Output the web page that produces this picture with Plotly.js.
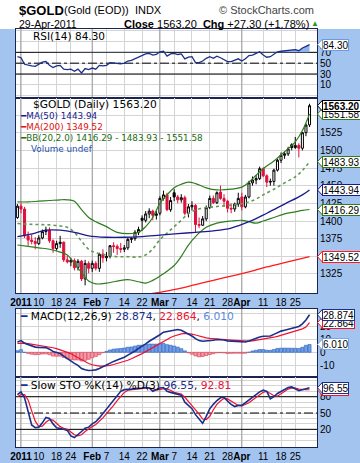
<!DOCTYPE html>
<html>
<head>
<meta charset="utf-8">
<script src="https://cdn.plot.ly/plotly-3.0.1.min.js"></script>
<style>
html,body{margin:0;padding:0;background:#a4c4f0;overflow:hidden;}
#chart{width:360px;height:463px;}
</style>
</head>
<body>
<div id="chart"></div>
<script>
// ---------------- DATA ----------------
const tradingDates = [
"2010-12-31",
"2011-01-03","2011-01-04","2011-01-05","2011-01-06","2011-01-07",
"2011-01-10","2011-01-11","2011-01-12","2011-01-13","2011-01-14",
"2011-01-18","2011-01-19","2011-01-20","2011-01-21",
"2011-01-24","2011-01-25","2011-01-26","2011-01-27","2011-01-28",
"2011-01-31","2011-02-01","2011-02-02","2011-02-03","2011-02-04",
"2011-02-07","2011-02-08","2011-02-09","2011-02-10","2011-02-11",
"2011-02-14","2011-02-15","2011-02-16","2011-02-17","2011-02-18",
"2011-02-22","2011-02-23","2011-02-24","2011-02-25",
"2011-02-28","2011-03-01","2011-03-02","2011-03-03","2011-03-04",
"2011-03-07","2011-03-08","2011-03-09","2011-03-10","2011-03-11",
"2011-03-14","2011-03-15","2011-03-16","2011-03-17","2011-03-18",
"2011-03-21","2011-03-22","2011-03-23","2011-03-24","2011-03-25",
"2011-03-28","2011-03-29","2011-03-30","2011-03-31","2011-04-01",
"2011-04-04","2011-04-05","2011-04-06","2011-04-07","2011-04-08",
"2011-04-11","2011-04-12","2011-04-13","2011-04-14","2011-04-15",
"2011-04-18","2011-04-19","2011-04-20","2011-04-21",
"2011-04-25","2011-04-26","2011-04-27","2011-04-28","2011-04-29"];

const openP = [1405,1421,1417,1379,1373,1371,1368,1376,1385,1387,
1372,1361,1368,1370,1345,1342,1344,1334,1343,1318,
1340,1333,1340,1333,1353,1348,1350,1365,1364,1361,
1360,1362,1374,1375,1384,1404,1401,1410,1414,1408,
1411,1432,1437,1416,1440,1434,1430,1433,1411,1420,
1422,1395,1394,1403,1419,1432,1426,1441,1432,1428,
1418,1417,1424,1434,1420,1434,1454,1458,1460,1474,
1464,1455,1456,1472,1486,1493,1495,1508,1504,1507,
1503,1525,1536];
const highP = [1424,1425,1420,1385,1381,1377,1380,1388,1392,1391,
1374,1372,1379,1371,1351,1348,1347,1346,1345,1345,
1343,1344,1343,1355,1360,1356,1366,1370,1367,1369,
1366,1376,1377,1387,1392,1408,1414,1418,1416,1414,
1435,1443,1440,1434,1445,1437,1438,1436,1424,1428,
1424,1405,1407,1422,1436,1436,1442,1450,1438,1430,
1425,1426,1440,1440,1437,1457,1463,1465,1477,1476,
1466,1460,1474,1488,1497,1498,1505,1510,1519,1510,
1526,1538,1566];
const lowP = [1403,1411,1376,1365,1367,1360,1366,1374,1380,1369,
1355,1358,1362,1342,1340,1336,1330,1330,1315,1309,
1326,1328,1330,1328,1341,1343,1347,1355,1352,1355,
1356,1359,1369,1372,1380,1386,1398,1404,1401,1402,
1408,1429,1414,1413,1428,1425,1426,1408,1405,1415,
1384,1390,1393,1400,1417,1424,1424,1430,1420,1412,
1411,1413,1420,1415,1418,1432,1450,1452,1458,1462,
1448,1450,1450,1470,1482,1488,1492,1500,1502,1490,
1500,1520,1533];
const closeP = [1421,1417,1379,1373,1371,1368,1376,1385,1387,1372,
1361,1368,1370,1345,1342,1344,1334,1343,1318,1340,
1333,1340,1333,1353,1348,1350,1365,1364,1361,1360,
1362,1374,1375,1384,1388,1401,1410,1414,1408,1410,
1432,1437,1416,1429,1434,1430,1433,1411,1420,1422,
1395,1394,1403,1419,1432,1426,1440,1432,1428,1418,
1417,1424,1432,1420,1434,1454,1458,1460,1474,1464,
1455,1456,1472,1486,1493,1495,1502,1504,1507,1503,
1525,1535.9,1563.2];

const ma50X = [0,5,8,12,16,20,25,30,35,40,45,50,55,60,65,70,75,80,82];
const ma50  = [1378,1383,1387,1387,1384,1379,1377,1377,1378,1380,1382,1384,1386,1390,1399,1411,1424,1437,1443.94];
const ma200X = [0,10,20,30,40,45,50,55,60,65,70,75,82];
const ma200  = [1262,1273,1283,1292,1299,1304,1310,1316,1322,1328,1335,1341,1349.52];

const bbX = [0,3,6,9,12,14,16,18,20,22,25,28,31,34,36,38,40,42,44,46,48,50,53,56,60,63,65,67,69,72,75,78,80,82];
const bbUpper = [1427,1427,1428,1429,1430,1430,1428,1416,1405,1399,1392,1384,1382,1384,1392,1405,1425,1437,1447,1452,1455,1453,1447,1444,1445,1448,1455,1465,1474,1485,1498,1512,1528,1551.58];
const bbMid = [1396.5,1395.5,1395,1394.5,1393,1391,1384,1371.5,1360,1355,1352,1349.5,1349.5,1349,1352,1360.5,1373.5,1383,1392,1401,1410.5,1415.5,1419,1420.5,1422.5,1424.5,1427,1431,1437,1445,1454,1462.5,1471.5,1483.93];
const bbLower = [1366,1364,1362,1360,1356,1352,1340,1327,1315,1311,1312,1315,1317,1314,1312,1316,1322,1329,1337,1350,1366,1378,1391,1397,1400,1401,1399,1397,1400,1405,1410,1413,1415,1416.29];

const rsi14 = [62,60,48,46,45,44,48,52,53,46,
42,45,46,39,38,39,35,39,32,40,
38,41,39,46,45,46,51,50,49,49,
50,54,55,58,60,64,67,68,65,66,
71,72,63,67,68,66,67,58,61,62,
51,51,54,59,62,59,63,60,57,53,
53,55,58,54,58,64,65,68,71,65,
61,62,67,71,72,73,74,74,75,73,
78,81,84.3];

const macdLine = [8.0,9.0,7.0,5.8,4.8,4.0,3.8,3.9,3.6,2.4,
0.6,-0.2,-1.0,-3.0,-5.0,-6.8,-8.5,-10.0,-12.5,-13.5,
-14.0,-13.8,-13.5,-12.5,-11.0,-9.8,-8.2,-7.0,-6.0,-5.0,
-3.8,-2.2,-0.9,1.0,3.0,4.5,6.5,8.5,10.0,11.5,
13.5,15.5,16.0,16.8,17.3,17.5,17.0,15.6,14.0,12.5,
10.5,9.0,8.5,8.6,9.0,9.3,9.8,9.8,9.4,8.8,
8.6,8.5,8.3,8.0,7.9,8.7,9.8,10.8,11.8,12.3,
12.2,12.5,13.8,15.3,16.3,17.0,17.8,18.5,19.3,19.9,
21.9,24.8,28.874];
const macdSignal = [6.8,7.0,7.0,6.7,6.3,5.9,5.5,5.2,4.8,4.3,
3.5,2.8,2.0,1.0,0.0,-1.0,-2.6,-4.1,-5.8,-7.3,
-8.6,-9.6,-10.3,-10.6,-10.7,-10.5,-10.0,-9.4,-8.7,-7.9,
-7.1,-6.1,-5.0,-3.8,-2.4,-1.0,0.5,2.1,3.7,5.2,
6.9,8.6,10.1,11.4,12.5,13.5,14.2,14.5,14.4,14.0,
13.3,12.5,11.7,11.1,10.7,10.4,10.2,10.1,9.9,9.7,
9.4,9.2,9.0,8.8,8.6,8.6,8.8,9.2,9.7,10.2,
10.6,11.0,11.6,12.3,13.1,13.8,14.6,15.4,16.2,17.0,
18.0,19.4,22.864];
const macdHist = [1.2,2.0,0.0,-0.9,-1.5,-1.9,-1.7,-1.3,-1.2,-1.9,
-2.9,-3.0,-3.0,-4.0,-5.0,-5.8,-5.9,-5.9,-6.7,-6.2,
-5.4,-4.2,-3.2,-1.9,-0.3,0.7,1.8,2.4,2.7,2.9,
3.3,3.9,4.1,4.8,5.4,5.5,6.0,6.4,6.3,6.3,
6.6,6.9,5.9,5.4,4.8,4.0,2.8,1.1,-0.4,-1.5,
-2.8,-3.5,-3.2,-2.5,-1.7,-1.1,-0.4,-0.3,-0.5,-0.9,
-0.8,-0.7,-0.7,-0.8,-0.7,0.1,1.0,1.6,2.1,2.1,
1.6,1.5,2.2,3.0,3.2,3.2,3.2,3.1,3.1,2.9,
3.9,5.4,6.010];

const stoK = [84,89,78,55,28,23,24,32,42,40,
30,23,22,20,18,8,5,10,16,22,
24,30,34,41,49,56,64,72,82,90,
93,93,94,95,95,96,97,96,90,93,
96,97,90,88,86,85,83,70,64,58,
47,38,31,44,58,66,73,78,79,72,
66,62,64,64,69,74,79,84,89,92,
90,76,80,86,90,94,97,98,94,91,
93,95,96.55];
const stoD = [80,84,84,74,54,35,25,26,33,38,
37,31,25,22,20,15,10,8,10,16,
21,25,29,35,41,49,56,64,73,81,
88,92,93,94,95,95,96,96,94,93,
93,95,94,92,88,86,85,79,72,64,
56,48,39,38,44,56,66,72,77,76,
72,67,64,63,66,69,74,79,84,88,
90,86,82,81,85,90,94,96,96,94,
93,93,92.81];

const tickDates = ["2011-01-03","2011-01-10","2011-01-18","2011-01-24","2011-02-01","2011-02-07","2011-02-14","2011-02-22","2011-03-01","2011-03-07","2011-03-14","2011-03-21","2011-03-28","2011-04-01","2011-04-11","2011-04-18","2011-04-25"];
const tickLabels = ["2011","10","18","24","Feb","7","14","22","Mar","7","14","21","28","Apr","11","18","25"];
const monthStartDates = ["2011-01-03","2011-02-01","2011-03-01","2011-04-01"];

// ---------------- GEOMETRY ----------------
const L = 16, R = 317, T = 29, B = 447;
const pw = R - L, ph = B - T;
const px = x => (x - L) / pw;
const py = y => (B - y) / ph;

const idx = tradingDates.map((d, i) => i);
const last = closeP.length - 1;
const tickVals = tickDates.map(d => tradingDates.indexOf(d));
const tickText = tickDates.map((d, i) => monthStartDates.includes(d) ? "<b>" + tickLabels[i] + "</b>" : tickLabels[i]);
const monthIdx = monthStartDates.map(d => tradingDates.indexOf(d));

const NAVY = "#1b2f8a", RED = "#ee1133", GREEN = "#2f7d1f", CANDLE_RED = "#e0103c";
const gridC = "#d4d4d4", borderC = "#1c2451";
const SANS = "Liberation Sans, Arial, sans-serif";
const VERD = "DejaVu Sans, Verdana, sans-serif";
const xRange = [-0.4, 84.1];
const rsiRange = [-14.2, 113], priceRange = [1298.1, 1574.1], macdRange = [-19, 33.3], stoRange = [-12.5, 116.3];

// ---------------- TRACES ----------------
const traces = [];

// RSI
traces.push({type:"scatter", mode:"lines", x: idx, y: idx.map(() => 70), line:{width:0, color:"rgba(0,0,0,0)"}, xaxis:"x", yaxis:"y", hoverinfo:"skip", showlegend:false});
traces.push({type:"scatter", mode:"lines", x: idx, y: rsi14.map(v => Math.max(v, 70)), fill:"tonexty", fillcolor:"#8fb3ea", line:{width:0, color:"rgba(0,0,0,0)"}, xaxis:"x", yaxis:"y", hoverinfo:"skip", showlegend:false});
traces.push({type:"scatter", mode:"lines", x: idx, y: rsi14, line:{color:NAVY, width:1.3}, xaxis:"x", yaxis:"y", hoverinfo:"skip", showlegend:false});

// Price: bands and MAs
traces.push({type:"scatter", mode:"lines", x: bbX, y: bbUpper, line:{color:GREEN, width:1.2, shape:"spline"}, xaxis:"x2", yaxis:"y2", hoverinfo:"skip", showlegend:false});
traces.push({type:"scatter", mode:"lines", x: bbX, y: bbLower, line:{color:GREEN, width:1.2, shape:"spline"}, xaxis:"x2", yaxis:"y2", hoverinfo:"skip", showlegend:false});
traces.push({type:"scatter", mode:"lines", x: bbX, y: bbMid, line:{color:"#5f9a50", width:1.6, dash:"dot", shape:"spline"}, xaxis:"x2", yaxis:"y2", hoverinfo:"skip", showlegend:false});
traces.push({type:"scatter", mode:"lines", x: ma200X, y: ma200, line:{color:"#ff1a1a", width:1.3, shape:"spline"}, xaxis:"x2", yaxis:"y2", hoverinfo:"skip", showlegend:false});
traces.push({type:"scatter", mode:"lines", x: ma50X, y: ma50, line:{color:"#1a1a8f", width:1.3, shape:"spline"}, xaxis:"x2", yaxis:"y2", hoverinfo:"skip", showlegend:false});

// Candles
const prevClose = i => i === 0 ? openP[0] : closeP[i - 1];
function candleGroup(filter, color, hollow) {
  const ii = idx.filter(filter);
  if (!ii.length) return;
  const st = {line:{color: color, width:1}, fillcolor: hollow ? "#ffffff" : color};
  traces.push({type:"candlestick", x: ii, open: ii.map(i => openP[i]), high: ii.map(i => highP[i]),
    low: ii.map(i => lowP[i]), close: ii.map(i => closeP[i]), increasing: st, decreasing: st,
    whiskerwidth: 0, xaxis:"x2", yaxis:"y2", hoverinfo:"skip", showlegend:false});
}
candleGroup(i => closeP[i] >= prevClose(i) && closeP[i] >= openP[i], "#000000", true);
candleGroup(i => closeP[i] >= prevClose(i) && closeP[i] < openP[i], "#000000", false);
candleGroup(i => closeP[i] < prevClose(i) && closeP[i] >= openP[i], CANDLE_RED, true);
candleGroup(i => closeP[i] < prevClose(i) && closeP[i] < openP[i], CANDLE_RED, false);

// MACD
traces.push({type:"bar", x: idx, y: macdHist, marker:{color: macdHist.map(v => v >= 0 ? "#6f9fe8" : "#f59aa6"), line:{color: macdHist.map(v => v >= 0 ? "#2c5cb8" : "#d23a52"), width:0.6}}, xaxis:"x3", yaxis:"y3", hoverinfo:"skip", showlegend:false});
traces.push({type:"scatter", mode:"lines", x: idx, y: macdSignal, line:{color:RED, width:1.2}, xaxis:"x3", yaxis:"y3", hoverinfo:"skip", showlegend:false});
traces.push({type:"scatter", mode:"lines", x: idx, y: macdLine, line:{color:NAVY, width:1.6}, xaxis:"x3", yaxis:"y3", hoverinfo:"skip", showlegend:false});

// Stochastics
traces.push({type:"scatter", mode:"lines", x: idx, y: stoD, line:{color:RED, width:1.2}, xaxis:"x4", yaxis:"y4", hoverinfo:"skip", showlegend:false});
traces.push({type:"scatter", mode:"lines", x: idx, y: stoK, line:{color:NAVY, width:1.6}, xaxis:"x4", yaxis:"y4", hoverinfo:"skip", showlegend:false});

// ---------------- AXES ----------------
function xAx(anchor, labels) {
  return {domain:[0,1], anchor: anchor, range: xRange, tickmode:"array", tickvals: tickVals, ticktext: tickText,
    showticklabels: labels, ticks:"", tickangle:0, showgrid:true, gridcolor:gridC, gridwidth:1, zeroline:false,
    showline:true, mirror:true, linecolor:borderC, linewidth:1,
    tickfont:{family:SANS, size:10, color:"#000"}, fixedrange:true, rangeslider:{visible:false}};
}
function yAx(anchor, domain, range, vals, texts) {
  return {domain: domain, anchor: anchor, side:"right", range: range, tickmode:"array", tickvals: vals, ticktext: texts,
    ticks:"", showgrid:true, gridcolor:gridC, gridwidth:1, zeroline:false,
    showline:true, mirror:true, linecolor:borderC, linewidth:1,
    tickfont:{family:SANS, size:10, color:"#000"}, fixedrange:true};
}
const rsiVals = [-10,10,30,50,70,90,110];
const priceVals = [1325,1350,1375,1400,1425,1450,1475,1500,1525,1550];
const macdVals = [-10,0,10,20,30];
const stoVals = [0,10,20,30,40,50,60,70,80,90,100,110];

const layout = {
  width:360, height:463,
  margin:{l:L, r:360-R, t:T, b:463-B, pad:0},
  paper_bgcolor:"#a4c4f0", plot_bgcolor:"#ffffff",
  showlegend:false, hovermode:false, dragmode:false, bargap:0.12, boxgap:0.18,
  xaxis: xAx("y", false),
  xaxis2: xAx("y2", true),
  xaxis3: xAx("y3", false),
  xaxis4: xAx("y4", true),
  yaxis: yAx("x", [py(98), 1], rsiRange, rsiVals, rsiVals.map(v => [10,30,50,70].includes(v) ? String(v) : "")),
  yaxis2: yAx("x2", [py(293), py(98)], priceRange, priceVals, priceVals.map(v => (v === 1350 || v === 1550) ? "" : String(v))),
  yaxis3: yAx("x3", [py(377), py(309)], macdRange, macdVals, macdVals.map(v => v === 30 ? "" : String(v))),
  yaxis4: yAx("x4", [0, py(377)], stoRange, stoVals, stoVals.map(v => [20,50,80].includes(v) ? String(v) : "")),
  shapes: [], annotations: []
};

// header white strip
layout.shapes.push({type:"rect", xref:"paper", yref:"paper", x0: px(0), x1: px(360), y0: py(29), y1: py(0), fillcolor:"#ffffff", line:{width:0}, layer:"below"});

// month lines (darker)
[["x","y",rsiRange],["x2","y2",priceRange],["x3","y3",macdRange],["x4","y4",stoRange]].forEach(p => {
  monthIdx.forEach(m => {
    layout.shapes.push({type:"line", xref:p[0], yref:p[1], x0:m, x1:m, y0:p[2][0], y1:p[2][1], line:{color:"#9c9c9c", width:1}, layer:"between"});
  });
});
// reference lines (RSI 70/50/30, STO 80/50/20)
[["x","y",70,"solid"],["x","y",30,"solid"],["x","y",50,"dashdot"],["x4","y4",80,"solid"],["x4","y4",20,"solid"],["x4","y4",50,"dashdot"]].forEach(r => {
  layout.shapes.push({type:"line", xref:r[0], yref:r[1], x0:xRange[0], x1:xRange[1], y0:r[2], y1:r[2], line:{color:"#000", width:1, dash:r[3]}, layer:"between"});
});

// value boxes on the right
function valBox(yref, val, text, border, halfH, bold) {
  const tipW = 5 / pw;
  layout.shapes.push({type:"path", xref:"paper", yref: yref,
    path: `M ${1 + 0.5/pw},${val} L ${1 + tipW + 0.5/pw},${val + halfH} L ${1 + tipW + 0.5/pw},${val - halfH} Z`,
    fillcolor:"#ffffff", line:{color: border, width:1}, layer:"above"});
  layout.annotations.push({xref:"paper", yref: yref, x: 1 + tipW, y: val, xanchor:"left", yanchor:"middle",
    text: bold ? "<b>" + text + "</b>" : text, showarrow:false, bgcolor:"#ffffff", bordercolor: border, borderwidth:1, borderpad:0,
    height:10, font:{family:SANS, size:10, color:"#000"}});
}
const pH = 5.5 / 0.7065, rH = 5.5 / 0.5425, mH = 5.5 / 1.3, sH = 5.5 / 0.5435;
valBox("y", rsi14[last], rsi14[last].toFixed(2), "#6d9ae0", rH, false);
valBox("y2", ma200[ma200.length-1], ma200[ma200.length-1].toFixed(2), "#ff1a1a", pH, false);
valBox("y2", bbLower[bbLower.length-1], bbLower[bbLower.length-1].toFixed(2), GREEN, pH, false);
valBox("y2", ma50[ma50.length-1], ma50[ma50.length-1].toFixed(2), "#1a1a8f", pH, false);
valBox("y2", bbMid[bbMid.length-1], bbMid[bbMid.length-1].toFixed(2), GREEN, pH, false);
valBox("y2", bbUpper[bbUpper.length-1], bbUpper[bbUpper.length-1].toFixed(2), GREEN, pH, false);
valBox("y2", closeP[last], closeP[last].toFixed(2), "#000000", pH, true);
valBox("y3", macdHist[last], macdHist[last].toFixed(3), "#7aa6ee", mH, false);
valBox("y3", macdSignal[last], macdSignal[last].toFixed(3), RED, mH, false);
valBox("y3", macdLine[last], macdLine[last].toFixed(3), NAVY, mH, false);
valBox("y4", stoD[last], stoD[last].toFixed(2), RED, sH, false);
valBox("y4", stoK[last], stoK[last].toFixed(2), NAVY, sH, false);

// text annotations
function ann(xpx, ypx, text, size, family, color, anchor) {
  layout.annotations.push({xref:"paper", yref:"paper", x: px(xpx), y: py(ypx), xanchor: anchor || "left", yanchor:"middle",
    text: text, showarrow:false, font:{family: family, size: size, color: color}});
}
const chg = closeP[last] - closeP[last-1];
const pct = chg / closeP[last-1] * 100;
ann(16.5, 10, "<b>$GOLD</b>", 13, SANS, "#000");
ann(62, 10, "(Gold (EOD))  INDX", 11, SANS, "#000");
ann(316, 10, "© StockCharts.com", 11, SANS, "#444", "right");
ann(16.5, 23.5, "29-Apr-2011", 10.5, SANS, "#000");
ann(122, 23.5, "<b>Close</b> " + closeP[last].toFixed(2) + "  <b>Chg</b> +" + chg.toFixed(2) + " (+" + pct.toFixed(2) + "%)", 11, SANS, "#000");
ann(309, 23.5, "▲", 8, SANS, "#2a9a2a");

ann(31, 36, "RSI(14) " + rsi14[last].toFixed(2), 10.5, VERD, "#000");
ann(31, 105, "$GOLD (Daily) " + closeP[last].toFixed(2), 10.67, VERD, "#000");
ann(18, 116, "━MA(50) " + ma50[ma50.length-1].toFixed(2), 8.8, VERD, "#1a1a8f");
ann(18, 127, "━MA(200) " + ma200[ma200.length-1].toFixed(2), 8.8, VERD, "#e01010");
ann(18, 138, "━BB(20,2.0) " + bbLower[bbLower.length-1].toFixed(2) + " - " + bbMid[bbMid.length-1].toFixed(2) + " - " + bbUpper[bbUpper.length-1].toFixed(2), 8.8, VERD, "#1e6b10");
ann(29, 149, "Volume undef", 8.8, VERD, "#1f4fb0");
ann(18, 316.5, "<span style='color:" + NAVY + "'>━</span> MACD(12,26,9) <span style='color:" + NAVY + "'>" + macdLine[last].toFixed(3) + "</span>, <span style='color:" + RED + "'>" + macdSignal[last].toFixed(3) + "</span>, <span style='color:#5a8ae0'>" + macdHist[last].toFixed(3) + "</span>", 10.67, VERD, "#000");
ann(18, 385, "<span style='color:" + NAVY + "'>━</span> Slow STO %K(14) %D(3) <span style='color:" + NAVY + "'>" + stoK[last].toFixed(2) + "</span>, <span style='color:" + RED + "'>" + stoD[last].toFixed(2) + "</span>", 10.67, VERD, "#000");

Plotly.newPlot("chart", traces, layout, {staticPlot:true, displayModeBar:false});
</script>
</body>
</html>
